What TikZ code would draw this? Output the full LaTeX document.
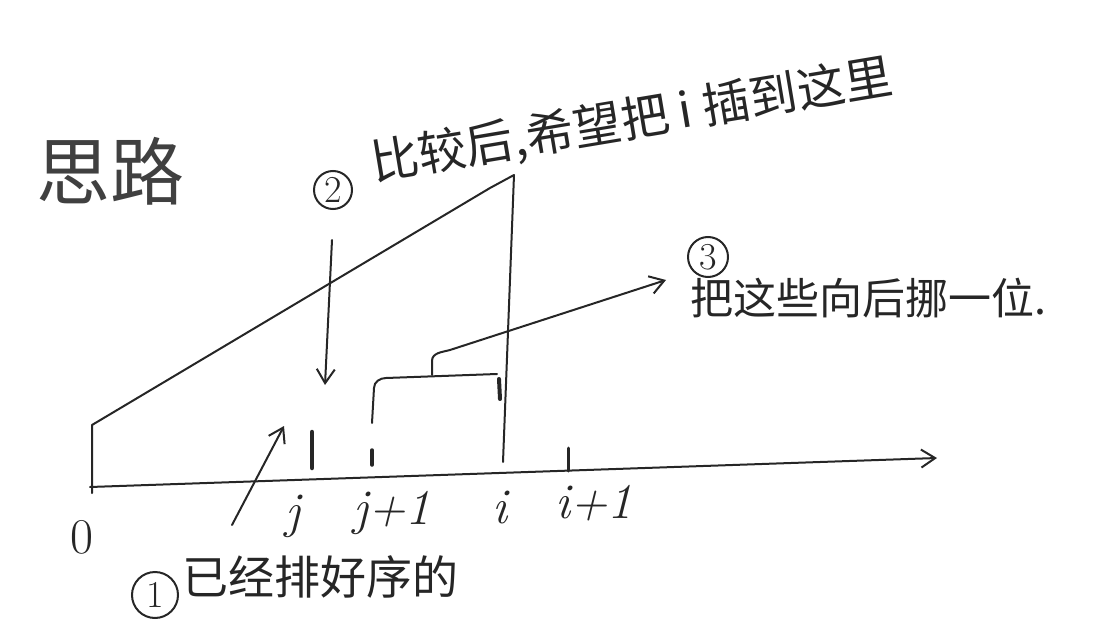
\documentclass[tikz,border=0pt]{standalone}
\usepackage{fontspec}
\newfontfamily\cjk{Noto Sans CJK SC}
\usetikzlibrary{arrows.meta}
\begin{document}
\begin{tikzpicture}[x=1pt,y=1pt,
  pen/.style={line width=2pt,line cap=round,line join=round,black!85},
  thick mark/.style={line width=4.5pt,line cap=round,black!85},
  barb/.style={-{Straight Barb[length=14pt,width=18pt,line width=2pt]}},
  lbl/.style={font=\fontsize{50}{50}\selectfont\itshape,text=black!85,inner sep=0pt},
  cjktext/.style={font=\cjk\fontsize{48}{48}\selectfont,text=black!85,inner sep=0pt},
  num/.style={circle,draw=black!85,line width=2pt,inner sep=0pt,minimum size=#1,font=\fontsize{38}{38}\selectfont,text=black!85}]
\useasboundingbox (0,0) rectangle (1116,641);
% axis
\coordinate (O) at (90,154);
\coordinate (E) at (937,183);
\draw[pen,barb] (O) -- (E);
% zero tick and slope line to i
\coordinate (Z0) at (92,148);
\coordinate (Z1) at (92,216);
\coordinate (bend) at (490,453);
\coordinate (top) at (514,466);
\coordinate (Ti) at (503,179);
\draw[pen] (Z0) -- (Z1) -- (bend) -- (top) -- (Ti);
% j mark
\coordinate (Ja) at (312,173);
\coordinate (Jb) at (312,209);
\draw[thick mark] (Ja) -- (Jb);
% j+1 dash
\coordinate (J1a) at (372,176);
\coordinate (J1b) at (372,191);
\draw[line width=3.5pt,line cap=round,black!85] (J1a) -- (J1b);
% i+1 tick
\coordinate (I1a) at (568,170);
\coordinate (I1b) at (568,193);
\draw[line width=3pt,line cap=round,black!85] (I1a) -- (I1b);
% bracket
\coordinate (Ba) at (372,218);
\coordinate (Bb) at (374,253);
\coordinate (Bc) at (386,263);
\coordinate (Bd) at (497,267);
\draw[pen] (Ba) -- (Bb) to[out=90,in=180] (Bc) -- (Bd);
\coordinate (Ma) at (499,262);
\coordinate (Mb) at (500,242);
\draw[thick mark,line width=4pt] (Ma) -- (Mb);
% branch arrow to (3)
\coordinate (Ca) at (432,266);
\coordinate (Cb) at (432,280);
\coordinate (Cc) at (450,291);
\coordinate (Cd) at (666,361);
\draw[pen,barb] (Ca) -- (Cb) to[out=90,in=195] (Cc) -- (Cd);
% arrow (2)
\coordinate (A2a) at (332,401);
\coordinate (A2b) at (325,256);
\draw[pen,barb] (A2a) -- (A2b);
% arrow (1)
\coordinate (A1a) at (232,116);
\coordinate (A1b) at (284,215);
\draw[pen,barb] (A1a) -- (A1b);
% labels
\node[lbl,font=\fontsize{50}{50}\selectfont] (l0) at (82,104) {0};
\node[lbl] (lj) at (293,125) {j};
\node[lbl] (lj1) at (392,128) {j+1};
\node[lbl] (li) at (500,134) {i};
\node[lbl] (li1) at (594,138) {i+1};
% title
\node[cjktext,font=\cjk\fontsize{74}{74}\selectfont,text=black!75] (title) at (110,470) {思路};
% (2)
\node[num=38pt] (n2) at (333,451) {2};
\node[cjktext,rotate=9.5] (t2) at (632,520) {比较后,希望把 i 插到这里};
% (3)
\node[num=40pt] (n3) at (708,384) {3};
\node[cjktext,font=\cjk\fontsize{43}{43}\selectfont] (t3) at (868,343) {把这些向后挪一位.};
% (1)
\node[num=46pt] (n1) at (155,46) {1};
\node[cjktext,font=\cjk\fontsize{46}{46}\selectfont] (t1) at (320,64) {已经排好序的};
\end{tikzpicture}
\end{document}
